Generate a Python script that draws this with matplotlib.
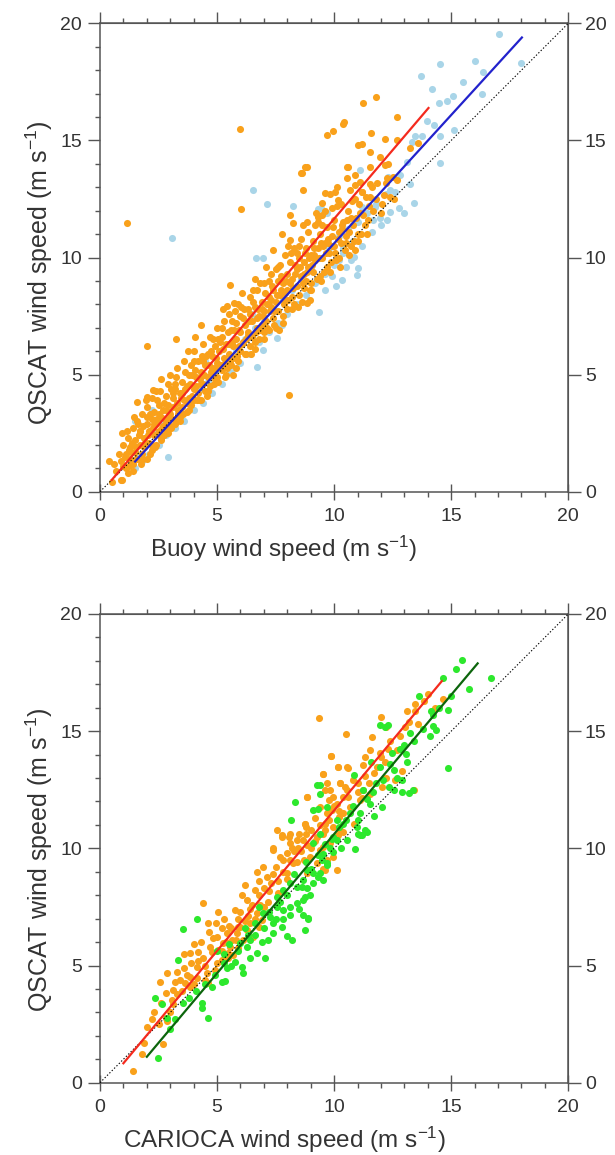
import matplotlib
import matplotlib.pyplot as plt
import numpy as np
from matplotlib.ticker import FixedLocator, MultipleLocator, NullLocator

matplotlib.use("Agg")

plt.rcParams["font.family"] = ["Liberation Sans", "DejaVu Sans"]
plt.rcParams["mathtext.default"] = "regular"

# ---- top panel: buoy vs QSCAT ----
buoy_orange = [
    (0.5, 0.4), (0.6, 1.2), (0.7, 0.9), (0.8, 1.6), (0.9, 0.5), (0.9, 1.3), (1.0, 2.0), (1.0, 1.1),
    (1.1, 1.6), (1.2, 0.8), (1.2, 2.3), (1.3, 1.4), (1.3, 1.9), (1.4, 2.7), (1.4, 1.2), (1.5, 1.7),
    (1.5, 2.2), (1.6, 3.0), (1.6, 1.4), (1.7, 2.0), (1.7, 2.6), (1.8, 1.6), (1.8, 3.3), (1.9, 2.3),
    (1.9, 1.9), (2.0, 2.9), (2.0, 1.4), (2.0, 3.6), (2.1, 2.1), (2.1, 2.6), (2.2, 3.1), (2.2, 1.8),
    (2.2, 4.0), (2.3, 2.4), (2.3, 3.4), (2.4, 2.0), (2.4, 2.9), (2.4, 4.3), (2.5, 3.7), (2.5, 2.6),
    (2.6, 3.2), (2.6, 2.2), (2.6, 4.8), (2.7, 3.5), (2.7, 2.8), (2.8, 4.1), (2.8, 3.0), (2.9, 2.5),
    (2.9, 3.7), (2.9, 4.6), (3.0, 3.3), (3.0, 2.8), (3.0, 5.0), (3.1, 4.0), (3.1, 3.6), (3.2, 2.9),
    (3.2, 4.4), (3.3, 3.8), (3.3, 5.3), (3.4, 3.2), (3.4, 4.2), (3.5, 4.7), (3.5, 3.6), (3.6, 5.6),
    (3.6, 3.9), (3.7, 3.4), (3.7, 4.5), (3.8, 5.0), (3.8, 4.0), (3.9, 3.7), (3.9, 5.4), (4.0, 4.4),
    (4.0, 6.0), (4.0, 3.9), (4.1, 4.9), (4.2, 4.2), (4.2, 5.6), (4.3, 3.9), (4.3, 5.1), (4.4, 4.6),
    (4.4, 6.3), (4.5, 5.4), (4.5, 4.3), (4.6, 5.9), (4.6, 4.9), (4.7, 4.5), (4.7, 6.6), (4.8, 5.3),
    (4.8, 5.8), (4.9, 4.8), (4.9, 6.2), (5.0, 5.5), (5.0, 7.0), (5.0, 4.9), (5.1, 6.0), (5.2, 5.2),
    (5.2, 6.6), (5.3, 5.7), (5.3, 7.3), (5.4, 5.0), (5.4, 6.3), (5.5, 5.9), (5.5, 7.6), (5.6, 5.4),
    (5.6, 6.9), (5.7, 6.2), (5.7, 5.7), (5.8, 7.2), (5.8, 6.5), (5.9, 5.6), (5.9, 8.0), (6.0, 6.8),
    (6.0, 6.0), (6.0, 7.5), (6.1, 6.4), (6.2, 7.1), (6.2, 5.9), (6.3, 7.8), (6.3, 6.7), (6.4, 6.2),
    (6.4, 8.3), (6.5, 7.3), (6.5, 6.6), (6.6, 7.9), (6.6, 6.1), (6.7, 7.0), (6.7, 8.6), (6.8, 7.5),
    (6.8, 6.5), (6.9, 8.1), (6.9, 7.1), (7.0, 6.8), (7.0, 8.9), (7.0, 7.7), (7.1, 7.3), (7.2, 8.3),
    (7.2, 6.9), (7.3, 7.9), (7.3, 9.3), (7.4, 7.4), (7.4, 8.6), (7.5, 8.1), (7.5, 7.0), (7.6, 9.0),
    (7.6, 7.7), (7.7, 8.4), (7.7, 9.7), (7.8, 7.5), (7.8, 8.9), (7.9, 8.2), (7.9, 10.1), (8.0, 9.3),
    (8.0, 7.8), (8.0, 8.6), (8.1, 9.8), (8.2, 8.3), (8.2, 9.1), (8.3, 10.4), (8.3, 8.0), (8.4, 9.5),
    (8.4, 8.8), (8.5, 10.0), (8.5, 8.4), (8.6, 9.2), (8.6, 10.8), (8.7, 8.7), (8.7, 9.8), (8.8, 10.4),
    (8.8, 9.0), (8.9, 11.1), (8.9, 9.6), (9.0, 10.1), (9.0, 8.9), (9.1, 10.7), (9.1, 9.4), (9.2, 11.4),
    (9.2, 9.9), (9.3, 10.4), (9.4, 9.2), (9.4, 11.0), (9.5, 10.0), (9.5, 11.8), (9.6, 10.6), (9.7, 9.6),
    (9.7, 11.3), (9.8, 10.2), (9.9, 10.9), (9.9, 12.1), (10.0, 10.5), (10.0, 11.6), (10.1, 9.9),
    (10.2, 11.1), (10.3, 12.3), (10.3, 10.6), (10.4, 11.5), (10.5, 10.9), (10.6, 12.0), (10.7, 10.5),
    (10.8, 11.4), (10.9, 12.5), (11.0, 11.0), (11.1, 11.9), (11.2, 12.8), (11.3, 11.4), (11.5, 12.2),
    (11.6, 13.0), (11.8, 12.5), (12.0, 11.9), (12.2, 13.2), (12.4, 12.6), (12.7, 13.3),
    (1.05, 1.5), (1.15, 2.6), (1.25, 1.1), (1.35, 2.1), (1.45, 3.2), (1.55, 1.9), (1.65, 2.4),
    (1.75, 1.2), (1.85, 2.8), (1.95, 3.9), (2.05, 2.4), (2.15, 3.3), (2.25, 2.7), (2.35, 1.9),
    (2.45, 3.1), (2.55, 4.3), (2.65, 2.7), (2.75, 3.8), (2.85, 2.6), (2.95, 3.4), (3.05, 4.4),
    (3.15, 3.1), (3.25, 4.9), (3.35, 3.5), (3.45, 4.0), (3.55, 3.3), (3.65, 4.4), (3.75, 6.0),
    (3.85, 4.6), (3.95, 4.1), (4.05, 5.2), (4.15, 3.9), (4.25, 4.8), (4.35, 5.8), (4.45, 5.0),
    (4.55, 4.1), (4.65, 5.4), (4.75, 6.0), (4.85, 4.6), (4.95, 5.7), (5.05, 6.5), (5.15, 5.4),
    (5.25, 6.1), (5.35, 4.9), (5.45, 6.8), (5.55, 5.6), (5.65, 6.4), (5.75, 7.7), (5.85, 5.8),
    (5.95, 6.9), (6.05, 6.3), (6.15, 7.8), (6.25, 6.5), (6.35, 7.3), (6.45, 5.9), (6.55, 8.1),
    (6.65, 6.8), (6.75, 7.8), (6.85, 6.9), (6.95, 7.5), (7.05, 8.5), (7.15, 7.0), (7.25, 7.7),
    (7.35, 8.8), (7.45, 7.7), (7.55, 8.4), (7.65, 6.9), (7.75, 9.2), (7.85, 8.0), (7.95, 9.0),
    (8.05, 8.2), (8.15, 10.2), (8.25, 8.7), (8.35, 9.3), (8.45, 7.9), (8.55, 9.6), (8.65, 8.9),
    (8.75, 10.2), (8.85, 9.4), (8.95, 8.6), (9.05, 9.7), (9.15, 10.4), (9.25, 9.1), (9.35, 10.0),
    (9.45, 10.6), (9.55, 9.4), (9.65, 10.2), (9.75, 10.8), (9.85, 9.8), (9.95, 11.3), (10.05, 10.2),
    (10.15, 10.8), (10.25, 9.6), (10.35, 11.2), (10.45, 10.3), (10.55, 11.6), (10.65, 11.1),
    (10.75, 12.4), (10.85, 10.7), (10.95, 11.7), (11.05, 12.3), (11.15, 11.0), (11.25, 11.8),
    (11.35, 12.6), (11.45, 11.6), (11.65, 12.0), (11.85, 13.2), (12.05, 12.3), (12.3, 14.0), (12.55, 12.5),
    (1.12, 1.0), (1.32, 1.7), (1.52, 1.4), (1.72, 2.6), (1.92, 2.1), (2.12, 1.6), (2.32, 2.9),
    (2.52, 3.3), (2.72, 2.4), (2.92, 3.1), (3.12, 4.2), (3.32, 3.3), (3.52, 4.2), (3.72, 3.8),
    (3.92, 5.0), (4.12, 4.5), (4.32, 4.6), (4.52, 5.8), (4.72, 5.1), (4.92, 5.3), (5.12, 6.4),
    (5.32, 5.5), (5.52, 6.3), (5.72, 6.9), (5.92, 6.2), (6.12, 7.4), (6.32, 6.8), (6.52, 8.6),
    (6.72, 7.4), (6.92, 7.8), (7.12, 8.0), (7.32, 8.2), (7.52, 9.5), (7.72, 8.6), (7.92, 8.5),
    (8.12, 8.9), (8.32, 9.7), (8.52, 10.5), (8.72, 9.3), (8.92, 10.0), (9.12, 10.1), (9.32, 11.5),
    (9.52, 10.5), (9.72, 10.6), (9.92, 10.5), (10.12, 12.2), (10.32, 11.4), (10.52, 10.6), (10.72, 11.7),
    (1.22, 1.8), (1.62, 2.9), (2.02, 3.2), (2.42, 3.9), (2.82, 3.5), (3.22, 4.6), (3.62, 5.1),
    (4.02, 5.6), (4.42, 5.6), (4.82, 6.5), (5.22, 7.0), (5.62, 7.3), (6.02, 7.9), (6.42, 7.6),
    (6.82, 8.9), (7.22, 9.0), (7.62, 9.6), (8.02, 10.5), (8.42, 10.2), (8.82, 11.5), (9.22, 11.9),
    (9.62, 12.0), (10.02, 12.8), (1.42, 0.9), (1.82, 1.4), (2.22, 2.0), (2.62, 2.3), (3.02, 2.7),
    (3.42, 3.0), (3.82, 3.5), (4.22, 3.9), (4.62, 4.3), (5.02, 4.7), (5.42, 5.3), (5.82, 5.3),
    (6.22, 5.9), (6.62, 6.4), (7.02, 6.5), (7.42, 7.1), (7.82, 7.2), (8.22, 7.8), (8.62, 8.1),
    (9.02, 8.6), (9.42, 9.0), (9.82, 9.4), (10.22, 10.0), (10.62, 10.1), (11.02, 10.7),
    # scattered points away from the core
    (1.14, 11.46), (5.98, 15.47), (6.03, 12.08), (8.58, 13.62), (8.86, 13.87), (8.66, 12.88),
    (9.69, 15.22), (9.94, 15.41), (10.37, 15.72), (10.43, 15.79), (10.57, 13.87), (8.12, 11.81),
    (8.26, 11.46), (8.69, 11.39), (7.76, 11.0), (8.12, 10.75), (9.62, 12.74), (9.83, 12.71),
    (10.11, 13.02), (10.18, 12.45), (9.5, 12.34), (9.3, 11.74), (9.5, 11.39), (11.25, 16.6),
    (11.79, 16.86), (12.68, 15.98), (11.58, 15.32), (11.04, 14.8), (11.18, 14.84), (12.18, 15.08),
    (11.54, 14.51), (11.97, 14.3), (13.25, 14.66), (13.6, 14.9), (12.68, 15.01), (10.61, 13.87),
    (11.54, 13.87), (12.18, 13.94), (12.53, 13.45), (12.25, 13.38), (10.9, 13.52), (10.54, 13.38),
    (11.11, 13.23), (11.54, 13.16), (10.68, 12.88), (10.9, 13.09), (11.18, 12.81), (11.54, 12.59),
    (12.11, 12.67), (8.76, 13.87), (8.62, 13.59), (2.02, 6.24), (3.25, 6.52), (4.06, 6.62),
    (4.32, 7.12), (8.09, 4.14), (0.38, 1.33), (0.93, 2.5), (0.93, 0.51), (1.57, 3.85), (2.0, 4.06),
    (2.28, 4.35), (5.7, 5.0), (5.56, 8.83), (6.06, 8.47), (5.27, 7.79), (5.41, 7.93), (5.73, 8.05),
    (8.83, 8.05), (8.97, 8.19), (7.4, 10.3), (7.1, 9.6), (6.6, 9.1), (10.9, 10.3), (11.4, 11.0),
]

buoy_blue = [
    (1.5, 1.0), (1.6, 1.6), (1.8, 1.3), (2.0, 2.1), (2.1, 1.6), (2.3, 2.6), (2.5, 2.0), (2.6, 3.0),
    (2.8, 2.4), (2.92, 1.5), (3.0, 3.1), (3.2, 2.7), (3.4, 3.5), (3.6, 3.0), (3.8, 3.9), (4.0, 3.5),
    (4.2, 4.3), (4.4, 3.8), (4.6, 4.7), (4.8, 4.2), (5.0, 5.2), (5.2, 4.6), (5.4, 5.5), (5.6, 5.1),
    (5.8, 6.0), (6.0, 5.5), (6.2, 6.5), (6.4, 5.9), (6.6, 7.0), (6.7, 5.34), (6.8, 6.4), (6.95, 6.06),
    (7.0, 7.3), (7.2, 6.8), (7.4, 7.8), (7.55, 6.55), (7.6, 7.2), (7.76, 7.12), (7.8, 8.2), (8.0, 7.6),
    (8.2, 8.6), (8.4, 8.0), (8.6, 9.1), (8.8, 8.4), (9.0, 9.5), (9.2, 8.9), (9.37, 7.69), (9.4, 10.0),
    (9.6, 9.3), (9.8, 10.4), (10.0, 9.7), (10.2, 10.9), (10.33, 9.04), (10.4, 10.2), (10.6, 11.2),
    (10.83, 10.03), (10.97, 9.25), (11.04, 9.54), (10.8, 10.7), (11.0, 11.5), (11.2, 10.5),
    (11.4, 11.9), (11.6, 11.1), (11.68, 11.6), (11.8, 12.3), (12.01, 11.39), (12.25, 11.6),
    (12.39, 11.93), (12.2, 12.7), (12.4, 12.9), (12.6, 12.8), (12.75, 12.1), (12.99, 11.88),
    (12.82, 13.52), (13.11, 14.09), (13.25, 13.16), (13.43, 12.34), (13.32, 14.94), (13.46, 15.18),
    (13.75, 15.18), (13.96, 15.83), (14.27, 15.65), (14.53, 15.18), (15.13, 15.44), (14.53, 14.02),
    (14.46, 16.58), (14.81, 16.69), (15.07, 16.89), (16.31, 17.0), (13.7, 17.77), (14.18, 17.21),
    (14.53, 18.28), (15.5, 17.5), (16.0, 18.39), (16.35, 17.92), (17.05, 19.53), (17.99, 18.31),
    (3.06, 10.85), (6.52, 12.88), (7.12, 12.27), (8.23, 12.21), (9.33, 12.07), (6.67, 9.97),
    (6.98, 9.97), (1.5, 3.0), (9.6, 8.6), (9.9, 9.2), (10.1, 8.8), (10.5, 9.6), (10.2, 9.9),
    (10.7, 9.9), (10.4, 10.4), (11.11, 13.73), (11.75, 12.17), (11.18, 12.14), (11.94, 11.67),
    (12.28, 13.45), (9.43, 12.1), (9.69, 11.88), (2.2, 3.5), (4.5, 5.6), (6.5, 7.6),
]

# ---- bottom panel: CARIOCA vs QSCAT ----
carioca_orange = [
    (1.4, 0.51), (1.78, 1.22), (2.68, 1.64), (2.02, 2.36), (2.82, 2.75), (2.88, 2.64), (2.82, 3.81),
    (3.13, 3.95), (3.3, 3.78), (3.06, 3.53), (3.1, 3.36), (2.56, 4.31), (2.88, 4.67), (3.28, 4.73),
    (3.63, 4.24), (3.85, 4.09), (3.6, 5.49), (3.85, 5.52), (4.17, 5.59), (3.89, 5.09), (4.13, 4.95),
    (4.42, 5.3), (4.49, 4.38), (4.63, 4.24), (4.42, 7.65), (5.06, 7.29), (4.63, 6.8), (4.96, 6.82),
    (4.67, 6.44), (4.84, 6.16), (5.2, 6.58), (5.41, 6.37), (5.77, 7.36), (4.77, 5.59), (5.06, 5.66),
    (5.27, 5.94), (5.48, 5.52), (5.63, 6.09), (5.84, 6.37), (5.91, 6.65), (6.06, 8.0), (6.2, 8.43),
    (6.27, 7.79), (6.62, 8.22), (6.7, 9.0), (6.98, 9.21), (7.12, 8.78), (6.84, 7.58), (7.19, 7.72),
    (7.38, 9.92), (7.69, 9.64), (7.76, 10.56), (8.12, 10.21), (8.26, 9.36), (8.47, 10.0), (8.69, 10.35),
    (8.97, 9.64), (9.26, 9.36), (9.54, 10.06), (9.62, 9.07), (8.83, 8.93), (7.98, 8.93), (3.85, 4.52),
    (4.13, 4.45), (4.56, 4.67), (4.91, 4.81), (4.99, 5.09), (5.2, 5.23), (5.48, 5.3), (5.7, 5.45),
    (5.56, 5.8), (5.91, 5.73), (6.12, 6.09), (6.27, 6.51), (6.55, 6.23), (6.77, 6.65), (6.91, 6.94),
    (6.41, 6.8), (6.7, 7.22), (5.98, 6.65), (7.55, 10.78), (8.12, 10.63), (8.41, 10.35), (8.83, 10.14),
    (9.26, 10.49), (9.54, 10.63), (9.83, 10.21), (10.18, 10.56), (10.4, 10.7), (9.4, 9.92), (9.69, 9.5),
    (9.97, 9.64), (10.11, 9.07), (9.54, 9.14), (8.83, 12.2), (8.76, 11.06), (9.62, 12.48),
    (9.76, 12.06), (9.97, 12.2), (10.11, 11.91), (10.26, 12.77), (10.54, 12.48), (10.4, 12.2),
    (9.4, 11.77), (9.69, 11.49), (9.9, 11.63), (10.19, 11.34), (9.62, 11.06), (9.97, 10.92),
    (10.26, 10.78), (10.68, 11.77), (10.83, 11.06), (11.11, 12.06), (11.25, 12.48), (11.04, 12.77),
    (9.37, 15.57), (10.51, 14.87), (9.86, 13.94), (10.18, 13.45), (9.52, 13.16), (10.54, 13.45),
    (8.86, 12.2), (7.76, 10.49), (8.09, 10.49), (7.38, 10.0), (8.76, 11.06), (8.8, 10.92),
    (9.69, 12.77), (9.83, 12.48), (10.26, 12.77), (14.64, 16.39), (13.85, 16.28), (13.46, 16.18),
    (13.11, 15.86), (13.46, 15.86), (12.0, 15.61), (12.22, 15.18), (13.03, 15.18), (11.61, 14.75),
    (12.68, 14.19), (12.32, 14.22), (11.97, 14.05), (11.82, 13.48), (12.18, 13.69), (11.32, 13.9),
    (11.54, 14.19), (9.86, 13.93), (10.16, 13.48), (10.59, 13.43), (11.23, 13.55), (9.52, 13.19),
    (10.47, 12.62), (13.4, 12.5), (12.04, 12.6), (11.47, 12.77), (11.54, 12.31), (11.18, 12.13),
    (7.3, 8.5), (7.5, 9.2), (7.8, 9.0), (8.0, 9.8), (8.3, 9.9), (8.5, 10.6), (8.7, 9.5), (9.0, 10.8),
    (9.2, 11.3), (8.1, 9.5), (7.6, 8.1), (7.0, 8.3), (6.8, 8.6), (6.5, 7.6), (6.3, 7.1), (5.9, 7.0),
    (5.5, 6.7), (5.3, 7.0), (4.3, 6.0), (4.0, 5.9), (3.4, 4.4), (3.6, 4.9), (2.3, 3.0), (2.5, 2.5),
    (1.9, 1.7), (2.2, 2.7), (2.6, 3.4), (3.0, 3.0), (3.2, 4.3), (3.5, 3.9), (3.7, 4.6), (4.0, 4.2),
    (4.2, 5.2), (4.5, 5.0), (4.7, 5.8), (5.0, 6.2), (5.2, 5.6), (5.4, 6.0), (5.6, 6.6), (5.8, 6.1),
    (6.0, 7.3), (6.2, 6.9), (6.4, 7.4), (6.6, 7.0), (6.8, 8.0), (7.0, 7.5), (7.2, 8.2), (7.4, 8.9),
    (7.6, 8.6), (7.8, 9.5), (8.0, 8.7), (8.2, 10.0), (8.4, 9.4), (8.6, 9.9), (8.8, 10.6), (9.0, 10.0),
    (9.2, 10.3), (9.4, 11.0), (9.6, 10.8), (9.8, 11.2), (10.0, 11.8), (10.2, 11.6), (10.4, 11.5),
    (10.6, 12.2), (10.8, 12.9), (11.0, 12.4), (11.3, 13.1), (11.7, 13.2), (12.0, 13.9), (12.4, 14.6),
    (12.8, 14.8), (13.2, 15.4), (13.6, 15.3), (14.0, 16.6), (14.3, 16.0), (12.9, 13.3), (12.6, 12.9),
    (12.2, 13.0),
]

carioca_green = [
    (2.49, 1.07), (2.99, 2.28), (2.88, 2.75), (2.35, 3.62), (2.64, 3.36), (3.56, 3.39), (4.35, 3.39),
    (4.35, 3.17), (4.63, 2.77), (3.35, 5.23), (3.56, 6.54), (4.13, 6.97), (4.77, 4.07), (5.2, 4.31),
    (5.34, 4.35), (5.41, 4.88), (6.12, 4.67), (6.06, 4.95), (6.41, 5.3), (6.7, 5.52), (7.05, 5.3),
    (7.19, 6.09), (7.41, 6.37), (7.76, 6.65), (7.98, 6.25), (8.19, 6.09), (8.76, 6.51), (8.9, 7.0),
    (7.83, 7.0), (7.26, 7.08), (6.98, 7.22), (8.12, 7.15), (7.55, 7.93), (7.83, 8.22), (8.12, 8.5),
    (8.41, 8.36), (8.69, 8.64), (8.83, 9.07), (8.97, 8.0), (9.11, 8.5), (9.4, 8.93), (9.54, 8.64),
    (9.69, 9.36), (8.69, 7.79), (8.41, 7.65), (8.12, 7.51), (7.83, 7.36), (7.55, 7.51), (7.41, 6.8),
    (6.27, 5.8), (6.41, 6.09), (5.98, 5.94), (5.77, 5.16), (9.11, 10.21), (9.54, 9.78), (9.83, 10.0),
    (10.11, 10.35), (10.54, 10.35), (8.69, 7.15), (8.9, 7.01), (8.76, 7.93), (8.62, 8.36), (8.83, 8.29),
    (9.11, 8.93), (9.33, 8.78), (9.69, 9.28), (9.47, 9.5), (9.97, 9.85), (10.9, 9.99), (11.04, 10.63),
    (11.4, 10.7), (11.18, 10.56), (9.26, 12.7), (9.4, 12.34), (10.83, 13.15), (10.11, 11.2),
    (10.68, 11.49), (10.97, 10.92), (11.32, 10.8), (11.11, 10.56), (9.97, 10.49), (9.4, 10.63),
    (9.11, 11.63), (9.69, 11.77), (10.4, 11.06), (11.04, 11.2), (11.54, 11.91), (9.4, 12.7),
    (8.33, 11.98), (9.29, 11.66), (8.16, 11.23), (15.48, 18.03), (15.21, 17.64), (16.7, 17.27),
    (15.74, 16.79), (14.63, 17.25), (14.86, 15.92), (14.15, 15.85), (14.22, 15.68), (13.63, 16.49),
    (14.22, 15.21), (14.36, 15.04), (13.25, 14.93), (11.97, 15.25), (12.32, 15.28), (12.18, 15.18),
    (14.86, 13.43), (13.08, 14.02), (13.13, 13.69), (12.47, 14.07), (12.82, 14.22), (11.97, 13.48),
    (12.54, 13.34), (11.57, 13.69), (11.25, 12.48), (11.66, 12.41), (12.04, 11.77), (12.36, 12.62),
    (12.56, 12.48), (12.89, 12.41), (13.18, 12.37), (13.39, 12.51), (5.0, 5.6), (5.5, 5.9),
    (6.2, 6.6), (6.6, 6.3), (7.0, 6.6), (6.8, 7.5), (5.3, 5.1), (3.2, 2.7), (3.8, 3.6), (4.1, 3.9),
    (4.5, 4.2), (4.9, 4.6), (5.3, 5.5), (5.6, 5.0), (5.9, 5.6), (6.3, 6.3), (6.6, 6.8), (6.9, 6.0),
    (7.2, 7.3), (7.5, 7.0), (7.7, 7.7), (8.0, 8.0), (8.3, 8.9), (8.5, 7.4), (8.8, 9.4), (9.0, 9.1),
    (9.3, 9.7), (9.6, 10.2), (9.9, 10.4), (10.2, 10.9), (10.5, 11.2), (10.8, 11.8), (11.1, 11.5),
    (11.4, 12.1), (11.8, 12.8), (12.1, 12.9), (12.4, 13.6), (12.7, 13.0), (13.0, 14.4), (13.4, 14.6),
    (13.8, 15.1), (14.1, 14.8), (14.5, 16.0), (15.0, 16.5), (10.3, 10.0), (11.7, 11.4), (12.9, 12.9),
]

# regression lines: slope, intercept, x start, x end
buoy_fit_orange = (1.174, -0.087, 0.5, 14.03)
buoy_fit_blue = (1.096, -0.355, 1.5, 18.02)
carioca_fit_orange = (1.199, -0.37, 1.0, 14.6)
carioca_fit_green = (1.188, -1.27, 2.0, 16.13)

major_ticks = [0, 5, 10, 15, 20]

TEXT = "#333333"
AXIS = "#555555"


def _fit_line(ax, fit, color):
    slope, intercept, x0, x1 = fit
    xs = np.array([x0, x1])
    ax.plot(xs, slope * xs + intercept, color=color, lw=1.6, zorder=4)


def _draw_panel(ax, under, under_color, over, over_color, fit_under, line_under,
                fit_over, line_over, xlabel, ylabel_y):
    u = np.array(under)
    o = np.array(over)
    ax.scatter(u[:, 0], u[:, 1], s=26, color=under_color, linewidths=0, zorder=2)
    ax.scatter(o[:, 0], o[:, 1], s=26, color=over_color, linewidths=0, zorder=2)
    ax.axline((0, 0), slope=1, color="black", lw=0.8, ls=(0, (1.2, 1.8)), zorder=3)
    _fit_line(ax, fit_over, line_over)
    _fit_line(ax, fit_under, line_under)

    ax.set_xlim(0, 20)
    ax.set_ylim(0, 20)
    for side in ax.spines.values():
        side.set_color(AXIS)
        side.set_linewidth(1.1)
    ax.xaxis.set_major_locator(FixedLocator(major_ticks))
    ax.xaxis.set_minor_locator(MultipleLocator(1))
    ax.yaxis.set_major_locator(FixedLocator(major_ticks))
    ax.yaxis.set_minor_locator(MultipleLocator(1))
    ax.tick_params(axis="x", which="major", direction="inout", length=12, width=1, color=AXIS,
                   labelsize=14, labelcolor=TEXT, pad=6)
    ax.tick_params(axis="y", which="major", direction="out", length=9, width=1, color=AXIS,
                   labelsize=14, labelcolor=TEXT, pad=4)
    ax.tick_params(which="minor", direction="out", length=3.5, width=1, color=AXIS)

    top = ax.secondary_xaxis("top")
    top.xaxis.set_major_locator(FixedLocator(major_ticks))
    top.xaxis.set_minor_locator(MultipleLocator(1))
    top.tick_params(which="major", direction="out", length=8, width=1, color=AXIS, labeltop=False)
    top.tick_params(which="minor", direction="out", length=3.5, width=1, color=AXIS)
    top.spines["top"].set_color(AXIS)

    right = ax.secondary_yaxis("right")
    right.yaxis.set_major_locator(FixedLocator(major_ticks))
    right.yaxis.set_minor_locator(NullLocator())
    right.tick_params(which="major", direction="out", length=9, width=1, color=AXIS,
                      labelsize=14, labelcolor=TEXT, pad=3)
    right.spines["right"].set_color(AXIS)

    ax.set_xlabel(xlabel, fontsize=17.5, color=TEXT)
    ax.xaxis.set_label_coords(0.393, -0.089)
    ax.set_ylabel("QSCAT wind speed (m s$^{-1}$)", fontsize=18, color=TEXT)
    ax.yaxis.set_label_coords(-0.097, ylabel_y)


fig = plt.figure(figsize=(6.15, 11.55), dpi=100)
ax_top = fig.add_axes([0.1626, 0.5743, 0.7614, 0.4055])
ax_bot = fig.add_axes([0.1626, 0.0626, 0.7614, 0.4058])

_draw_panel(ax_top, buoy_blue, "#A9D5E8", buoy_orange, "#F9A11B",
            buoy_fit_blue, "#2222CC", buoy_fit_orange, "#F42A1E",
            "Buoy wind speed (m s$^{-1}$)", 0.468)
_draw_panel(ax_bot, carioca_orange, "#F9A11B", carioca_green, "#2DE82D",
            carioca_fit_green, "#0C650C", carioca_fit_orange, "#F42A1E",
            "CARIOCA wind speed (m s$^{-1}$)", 0.475)

fig.savefig("out.png", dpi=100)
